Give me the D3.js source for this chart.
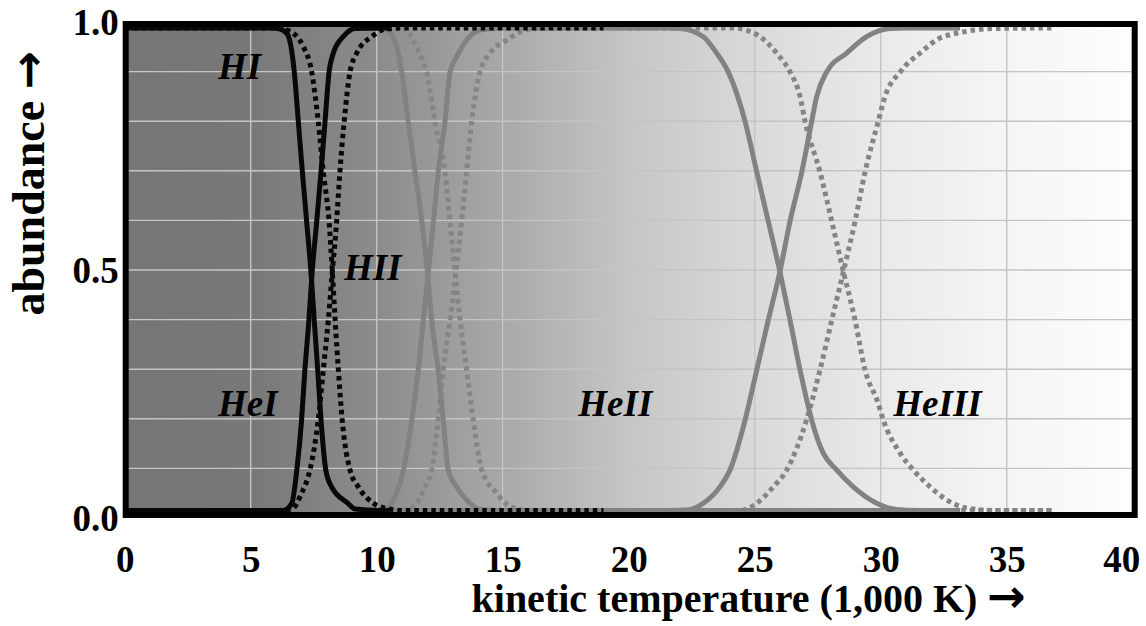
<!DOCTYPE html>
<html>
<head>
<meta charset="utf-8">
<script src="https://cdn.jsdelivr.net/npm/d3@7/dist/d3.min.js"></script>
<style>
  html, body { margin: 0; padding: 0; background: #fff; }
  svg { display: block; }
  text { font-family: "Liberation Serif", "Times New Roman", serif; font-weight: bold; fill: #000; }
  .arrow { font-family: "DejaVu Sans", sans-serif; font-weight: bold; }
</style>
</head>
<body>
<svg id="chart" width="1146" height="626"></svg>
<script>
// Ionization fractions versus kinetic temperature (thousands of K).
// Each series is [temperature, abundance] pairs.
// Solid = lower density, dotted = higher density.

// Hydrogen, solid
const hiSolid = [[0,1],[5.8,1],[6.08,0.999],[6.43,0.989],[6.60,0.961],[6.73,0.909],[6.89,0.806],[7.05,0.702],[7.22,0.599],[7.39,0.495],[7.52,0.395],[7.66,0.291],[7.79,0.188],[7.98,0.084],[8.21,0.049],[8.86,0.015],[9.14,0.003],[10.13,0],[10.5,0]];
const hiiSolid = [[0,0],[6.3,0],[6.63,0.015],[6.83,0.084],[7.02,0.188],[7.15,0.291],[7.31,0.395],[7.44,0.495],[7.62,0.599],[7.79,0.702],[7.95,0.806],[8.11,0.909],[8.28,0.948],[8.67,0.982],[9.14,0.999],[10.5,1]];

// Hydrogen, dotted
const hiDotted = [[0,1],[6.0,1],[6.48,0.995],[7.09,0.961],[7.42,0.909],[7.68,0.806],[7.88,0.702],[8.11,0.599],[8.24,0.495],[8.35,0.395],[8.48,0.291],[8.63,0.188],[8.94,0.084],[9.27,0.049],[9.87,0.015],[10.5,0.003],[11,0],[19,0]];
const hiiDotted = [[0,0],[6.0,0],[6.63,0.003],[7.02,0.036],[7.35,0.084],[7.68,0.188],[7.88,0.291],[8.08,0.395],[8.24,0.495],[8.41,0.599],[8.54,0.702],[8.71,0.806],[8.94,0.909],[9.21,0.948],[9.80,0.982],[10.3,0.997],[11,1],[19,1]];

// Helium, solid
const heiSolid = [[9,1],[9.6,1],[10.20,0.999],[10.40,0.996],[10.79,0.961],[10.99,0.909],[11.25,0.806],[11.52,0.702],[11.79,0.599],[12.01,0.495],[12.18,0.395],[12.44,0.291],[12.64,0.188],[12.84,0.084],[13.17,0.049],[13.70,0.015],[14.10,0.002],[15,0],[33.15,0]];
const heiiSolid = [[9,0],[9.6,0],[10.26,0.001],[10.79,0.036],[11.06,0.084],[11.39,0.188],[11.65,0.291],[11.85,0.395],[12.05,0.495],[12.25,0.599],[12.44,0.702],[12.71,0.806],[12.91,0.909],[13.17,0.940],[13.57,0.975],[14.10,0.996],[15,1],[21.5,1],[22.04,0.999],[22.96,0.982],[23.49,0.948],[23.95,0.909],[24.62,0.806],[25.08,0.702],[25.54,0.599],[26.00,0.495],[26.40,0.395],[26.80,0.291],[27.26,0.188],[27.46,0.153],[27.72,0.119],[28.25,0.084],[28.91,0.049],[29.84,0.015],[30.63,0.002],[31.5,0],[33.15,0]];
const heiiiSolid = [[9,0],[21.6,0],[22.30,0.001],[22.96,0.015],[23.62,0.049],[24.02,0.084],[24.62,0.188],[25.08,0.291],[25.54,0.395],[26.00,0.495],[26.40,0.599],[26.87,0.702],[27.26,0.806],[27.46,0.858],[27.86,0.909],[28.65,0.948],[29.44,0.982],[30.37,0.999],[31,1],[33.15,1]];

// Helium, dotted
const heiDotted = [[9,1],[10.6,1],[11.12,0.998],[11.44,0.975],[11.72,0.944],[11.98,0.909],[12.31,0.806],[12.71,0.702],[12.91,0.599],[13.11,0.495],[13.31,0.395],[13.57,0.291],[13.83,0.188],[14.17,0.084],[14.76,0.036],[15.29,0.008],[16.08,0],[36.8,0]];
const heiiDotted = [[9,0],[10.8,0],[11.45,0.008],[11.92,0.049],[12.18,0.084],[12.44,0.188],[12.64,0.291],[12.91,0.395],[13.15,0.495],[13.37,0.599],[13.57,0.702],[13.77,0.806],[14.10,0.909],[14.50,0.948],[15.16,0.975],[16.08,0.998],[17,1],[24.14,1],[25.21,0.982],[25.87,0.948],[26.40,0.909],[26.80,0.858],[27.00,0.806],[27.59,0.702],[28.06,0.599],[28.52,0.495],[28.98,0.395],[29.38,0.291],[29.90,0.222],[30.10,0.188],[30.77,0.119],[31.29,0.084],[31.96,0.049],[32.62,0.022],[33.42,0.005],[34.5,0],[36.8,0]];
const heiiiDotted = [[9,0],[24.42,0],[25.08,0.015],[25.74,0.049],[26.27,0.084],[27.06,0.188],[27.59,0.291],[28.06,0.395],[28.52,0.495],[28.98,0.599],[29.38,0.702],[29.90,0.806],[30.17,0.858],[30.77,0.909],[31.56,0.948],[32.48,0.982],[34.60,0.999],[36.8,1]];

// Axis ticks and labels
const xTicks = [0, 5, 10, 15, 20, 25, 30, 35, 40];
const yTicks = [0, 0.5, 1];
const yGridValues = [0.1, 0.2, 0.3, 0.4, 0.5, 0.6, 0.7, 0.8, 0.9];
const xTitle = "kinetic temperature (1,000 K)";
const yTitle = "abundance";
const titleArrow = "\u2192";

// Species labels: [text, temperature, abundance]
const speciesLabels = [
  ["HI",    3.7, 0.885],
  ["HII",   8.7, 0.48],
  ["HeI",   3.7, 0.205],
  ["HeII", 18.0, 0.205],
  ["HeIII",30.5, 0.205]
];

const svg = d3.select("#chart");

const x = d3.scaleLinear().domain([0, 40]).range([124.7, 1132.7]);
const y = d3.scaleLinear().domain([0, 1]).range([518, 22]);
// curves sit just inside the heavy frame
const yLine = y.copy().range([510.5, 28]);

// Background: horizontal grey ramp, dark at low temperature
const defs = svg.append("defs");
const grad = defs.append("linearGradient").attr("id", "bg")
  .attr("x1", 0).attr("x2", 1).attr("y1", 0).attr("y2", 0);
const bgStops = [[0, "#757575"], [0.125, "#787878"], [0.25, "#8c8c8c"], [0.375, "#a9a9a9"],
                 [0.5, "#c6c6c6"], [0.625, "#dadada"], [0.75, "#eaeaea"], [0.875, "#f5f5f5"], [1, "#fdfdfd"]];
grad.selectAll("stop").data(bgStops).join("stop")
  .attr("offset", d => d[0]).attr("stop-color", d => d[1]);

const frameTop = y(1) + 2, frameBottom = y(0) - 3;
const frameLeft = x(0) + 1, frameRight = x(40) + 2;

svg.append("rect")
  .attr("x", frameLeft).attr("y", frameTop)
  .attr("width", frameRight - frameLeft).attr("height", frameBottom - frameTop)
  .attr("fill", "url(#bg)");

// Grid
const grid = svg.append("g").attr("stroke", "#c4c4c4").attr("stroke-width", 1.4);
grid.selectAll("line.h").data(yGridValues).join("line").attr("class", "h")
  .attr("x1", frameLeft).attr("x2", frameRight)
  .attr("y1", d => y(d)).attr("y2", d => y(d));
grid.selectAll("line.v").data(xTicks.slice(1, -1)).join("line").attr("class", "v")
  .attr("x1", d => x(d)).attr("x2", d => x(d))
  .attr("y1", frameTop).attr("y2", frameBottom);

// Curves
const line = d3.line().x(d => x(d[0])).y(d => yLine(d[1])).curve(d3.curveMonotoneX);
const series = [
  { data: heiDotted,   color: "#858585", dotted: true },
  { data: heiiDotted,  color: "#858585", dotted: true },
  { data: heiiiDotted, color: "#858585", dotted: true },
  { data: heiSolid,    color: "#828282", dotted: false },
  { data: heiiSolid,   color: "#828282", dotted: false },
  { data: heiiiSolid,  color: "#828282", dotted: false },
  { data: hiSolid,     color: "#080808", dotted: false },
  { data: hiiSolid,    color: "#080808", dotted: false },
  { data: hiDotted,    color: "#080808", dotted: true },
  { data: hiiDotted,   color: "#080808", dotted: true }
];
svg.append("g").selectAll("path").data(series).join("path")
  .attr("d", d => line(d.data))
  .attr("fill", "none")
  .attr("stroke", d => d.color)
  .attr("stroke-width", 5)
  .attr("stroke-linejoin", "round")
  .attr("stroke-dasharray", d => d.dotted ? "4.5,4" : null);

// Frame
svg.append("rect")
  .attr("x", frameLeft).attr("y", frameTop)
  .attr("width", frameRight - frameLeft).attr("height", frameBottom - frameTop)
  .attr("fill", "none").attr("stroke", "#000").attr("stroke-width", 6);

// Species labels
svg.append("g").selectAll("text").data(speciesLabels).join("text")
  .attr("x", d => x(d[1])).attr("y", d => y(d[2]))
  .style("font-style", "italic").style("font-size", "37px")
  .text(d => d[0]);

// X axis labels
const xAxis = d3.axisBottom(x).tickValues(xTicks).tickSize(0).tickPadding(0).tickFormat(d3.format("d"));
const gx = svg.append("g").attr("transform", `translate(0, ${y(0)})`).call(xAxis);
gx.select(".domain").remove();
gx.selectAll("text")
  .attr("y", 54).attr("dy", null)
  .style("font-size", "37px").attr("fill", "#000")
  .attr("font-family", null).attr("font-size", null);
gx.selectAll(".tick").filter(d => d === 40).select("text")
  .attr("text-anchor", "end").attr("x", 7);

// Y axis labels
const yAxis = d3.axisLeft(y).tickValues(yTicks).tickSize(0).tickPadding(0).tickFormat(d3.format(".1f"));
const gy = svg.append("g").attr("transform", `translate(${x(0) - 6}, 0)`).call(yAxis);
gy.select(".domain").remove();
gy.selectAll("text")
  .attr("dy", "0.34em")
  .style("font-size", "37px").attr("fill", "#000")
  .attr("font-family", null).attr("font-size", null);

// Axis titles
const xt = svg.append("text")
  .attr("x", (x(0) + x(40)) / 2 + 120).attr("y", 612)
  .attr("text-anchor", "middle").style("font-size", "40px");
xt.append("tspan").text(xTitle + " ");
xt.append("tspan").attr("class", "arrow").style("font-size", "46px").text(titleArrow);

const yt = svg.append("text")
  .attr("transform", `translate(44, ${y(0.675)}) rotate(-90)`)
  .attr("text-anchor", "middle").style("font-size", "46px");
yt.append("tspan").text(yTitle + " ");
yt.append("tspan").attr("class", "arrow").style("font-size", "46px").text(titleArrow);
</script>
</body>
</html>
